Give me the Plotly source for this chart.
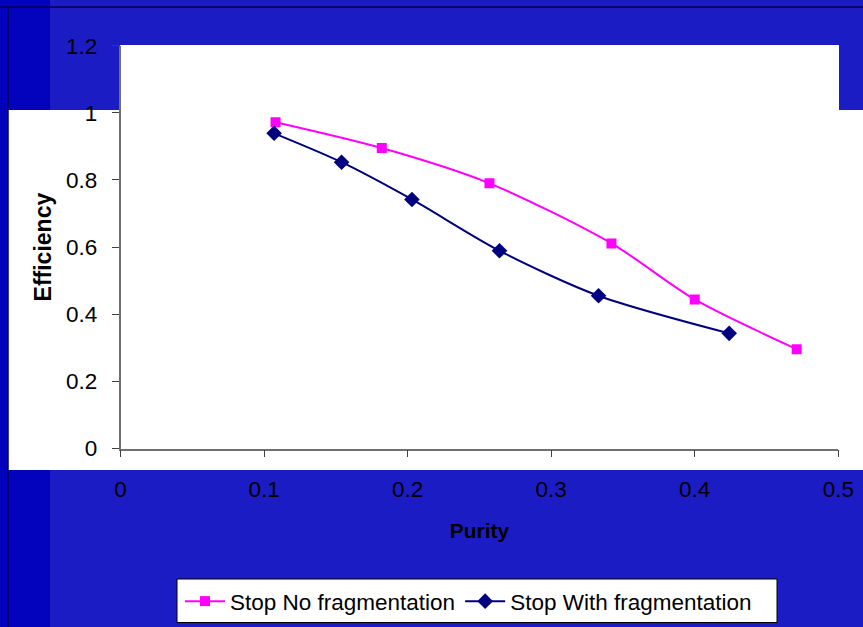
import plotly.graph_objects as go

# Purity / efficiency pairs for the two stop-selection variants
purity_no_frag = [0.108, 0.182, 0.257, 0.342, 0.400, 0.471]
eff_no_frag = [0.972, 0.895, 0.790, 0.611, 0.444, 0.296]

purity_with_frag = [0.107, 0.154, 0.203, 0.264, 0.333, 0.424]
eff_with_frag = [0.939, 0.853, 0.742, 0.589, 0.455, 0.343]

x_ticks = [0, 0.1, 0.2, 0.3, 0.4, 0.5]
x_tick_text = ["0", "0.1", "0.2", "0.3", "0.4", "0.5"]
y_ticks = [0, 0.2, 0.4, 0.6, 0.8, 1.0, 1.2]
y_tick_text = ["0", "0.2", "0.4", "0.6", "0.8", "1", "1.2"]

W, H = 863, 627
FONT = "Liberation Sans, Arial, sans-serif"


def px_x(v):
    return v / W


def px_y(v):
    return (H - v) / H


fig = go.Figure()

fig.add_trace(go.Scatter(
    x=purity_no_frag, y=eff_no_frag,
    name="Stop No fragmentation",
    mode="lines+markers",
    line=dict(color="#FF00FF", width=2, shape="spline", smoothing=0.8),
    marker=dict(symbol="square", size=10, color="#FF00FF"),
))
fig.add_trace(go.Scatter(
    x=purity_with_frag, y=eff_with_frag,
    name="Stop With fragmentation",
    mode="lines+markers",
    line=dict(color="#000080", width=2, shape="spline", smoothing=0.8),
    marker=dict(symbol="diamond", size=12, color="#000080"),
))

shapes = [
    # darker strip on the left edge of the slide
    dict(type="rect", xref="paper", yref="paper", x0=0, x1=px_x(50), y0=0, y1=1,
         fillcolor="#0303BD", line=dict(width=0), layer="below"),
    # white chart panels
    dict(type="rect", xref="paper", yref="paper", x0=px_x(120), x1=px_x(839),
         y0=px_y(110), y1=px_y(45), fillcolor="white", line=dict(width=0), layer="below"),
    dict(type="rect", xref="paper", yref="paper", x0=px_x(8), x1=1,
         y0=px_y(470), y1=px_y(110), fillcolor="white", line=dict(width=0), layer="below"),
    # slide frame lines
    dict(type="line", xref="paper", yref="paper", x0=0, x1=1, y0=px_y(7), y1=px_y(7),
         line=dict(color="#000050", width=1.5), layer="below"),
    dict(type="line", xref="paper", yref="paper", x0=px_x(8), x1=px_x(8), y0=0, y1=px_y(7),
         line=dict(color="#000050", width=1.5), layer="below"),
    # legend frame
    dict(type="rect", xref="paper", yref="paper", x0=px_x(177), x1=px_x(777),
         y0=px_y(622.5), y1=px_y(579), fillcolor="white",
         line=dict(color="black", width=1), layer="above"),
]

fig.update_layout(
    width=W, height=H,
    margin=dict(l=0, r=0, t=0, b=0, autoexpand=False),
    paper_bgcolor="#1C1CC4",
    plot_bgcolor="white",
    font=dict(family=FONT, color="black", size=22),
    shapes=shapes,
    showlegend=True,
    legend=dict(
        orientation="h",
        x=px_x(180), y=px_y(580), xanchor="left", yanchor="top",
        bgcolor="rgba(0,0,0,0)", borderwidth=0,
        font=dict(family=FONT, size=22.5, color="black"),
        itemwidth=40,
    ),
    xaxis=dict(
        domain=[px_x(120.5), px_x(838.3)],
        range=[0, 0.5],
        automargin=False,
        tickvals=x_ticks, ticktext=x_tick_text,
        ticks="outside", ticklen=7, tickcolor="#404040",
        showline=True, linecolor="#707070", linewidth=1.5,
        showgrid=False, zeroline=False,
        ticklabelstandoff=13,
        tickfont=dict(size=22.5, family=FONT),
        title=dict(text="<b>Purity</b>", font=dict(size=21, family=FONT), standoff=22),
    ),
    yaxis=dict(
        domain=[px_y(448.5), px_y(45.7)],
        range=[0, 1.2],
        automargin=False,
        tickvals=y_ticks, ticktext=y_tick_text,
        ticks="outside", ticklen=7, tickcolor="#404040",
        showline=True, linecolor="#707070", linewidth=1.5,
        showgrid=False, zeroline=False,
        ticklabelstandoff=10,
        tickfont=dict(size=22.5, family=FONT),
        title=dict(text="<b>Efficiency</b>", font=dict(size=23, family=FONT), standoff=8),
    ),
)

fig.write_html("out.html")
